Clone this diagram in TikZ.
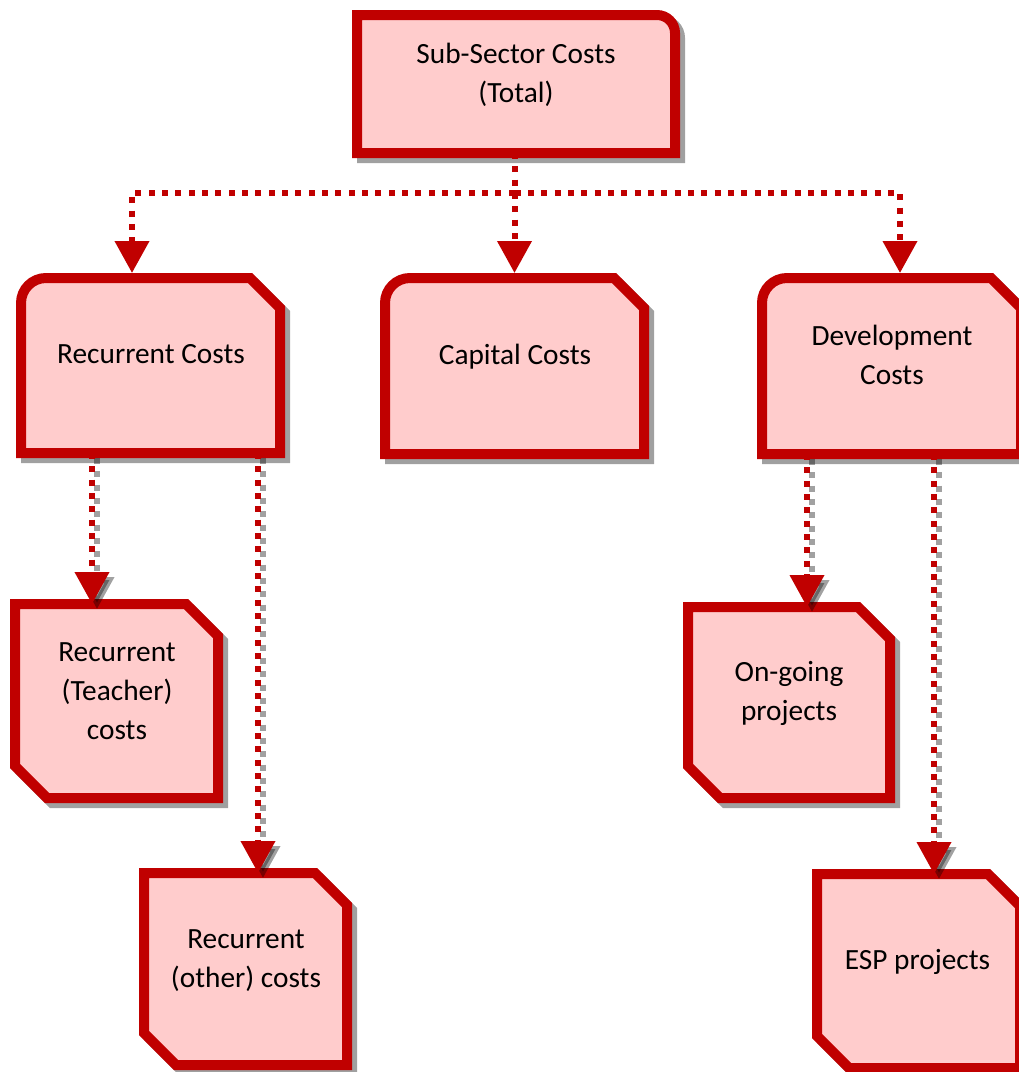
\documentclass[tikz,border=0pt]{standalone}
\usepackage{fontspec}
\setmainfont{Carlito}
\usetikzlibrary{arrows.meta,calc}
\definecolor{bred}{HTML}{C00000}
\definecolor{bfill}{HTML}{FFCCCC}
\definecolor{sgray}{HTML}{A0A0A0}
% shapes drawn on the anchors of an (invisible) box node
\newcommand\shapeTop[2]{\path[#2] (#1.south west) -- (#1.north west) -- ($(#1.north east)+(-18,0)$) arc[start angle=90,end angle=0,radius=13.5pt] -- (#1.south east) -- cycle;}
\newcommand\shapeMid[2]{\path[#2] (#1.south west) -- ($(#1.north west)+(0,25)$) arc[start angle=180,end angle=90,radius=18.75pt] -- ($(#1.north east)+(-30,0)$) -- ($(#1.north east)+(0,30)$) -- (#1.south east) -- cycle;}
\newcommand\shapeLow[2]{\path[#2] ($(#1.south west)+(0,-32)$) -- (#1.north west) -- ($(#1.north east)+(-32,0)$) -- ($(#1.north east)+(0,32)$) -- (#1.south east) -- ($(#1.south west)+(32,0)$) -- cycle;}
\begin{document}
\begin{tikzpicture}[x=0.75pt,y=-0.75pt,
  boxnode/.style={draw=none,inner sep=0pt,outer sep=0pt},
  boxline/.style={draw=bred,fill=bfill,line width=7.5pt,line join=miter},
  boxshadow/.style={draw=sgray,fill=sgray,line width=7.5pt,line join=miter,transform canvas={shift={(3.75pt,-3.75pt)}}},
  lbl/.style={align=center,inner sep=0pt,font=\fontsize{22pt}{29.25pt}\selectfont},
  conn/.style={draw=bred,line width=4.5pt,dash pattern=on 4.5pt off 5.5pt,-{Triangle[length=24pt,width=25pt]}},
  connshadow/.style={conn,draw=black,opacity=0.37,transform canvas={shift={(3.75pt,-3.75pt)}}}
]
\useasboundingbox (0,0) rectangle (1019,1072);
% box nodes
\node[boxnode,minimum width=238.5pt,minimum height=103.5pt] (top) at (516,84) {};
\node[boxnode,minimum width=194.25pt,minimum height=131.25pt] (rec) at (150.5,365.5) {};
\node[boxnode,minimum width=194.25pt,minimum height=132pt] (cap) at (514.5,366) {};
\node[boxnode,minimum width=194.25pt,minimum height=132pt] (dev) at (891.5,366) {};
\node[boxnode,minimum width=152.25pt,minimum height=145.5pt] (tea) at (116.5,701) {};
\node[boxnode,minimum width=151.5pt,minimum height=143.25pt] (ong) at (789,702.5) {};
\node[boxnode,minimum width=152.25pt,minimum height=144pt] (oth) at (245.5,969) {};
\node[boxnode,minimum width=152.25pt,minimum height=145.5pt] (esp) at (918.5,971) {};
% shadows
\shapeTop{top}{boxshadow}
\shapeMid{rec}{boxshadow}
\shapeMid{cap}{boxshadow}
\shapeMid{dev}{boxshadow}
\shapeLow{tea}{boxshadow}
\shapeLow{ong}{boxshadow}
\shapeLow{oth}{boxshadow}
\shapeLow{esp}{boxshadow}
% boxes
\shapeTop{top}{boxline}
\shapeMid{rec}{boxline}
\shapeMid{cap}{boxline}
\shapeMid{dev}{boxline}
\shapeLow{tea}{boxline}
\shapeLow{ong}{boxline}
\shapeLow{oth}{boxline}
\shapeLow{esp}{boxline}
% labels
\node[lbl] (ttop) at (516,75) {Sub-Sector Costs\\(Total)};
\node[lbl] (trec) at (151,354) {Recurrent Costs};
\node[lbl] (tcap) at (515,356.5) {Capital Costs};
\node[lbl] (tdev) at (892,355) {Development\\Costs};
\node[lbl] (ttea) at (117,691) {Recurrent\\(Teacher)\\costs};
\node[lbl] (tong) at (789,693.5) {On-going\\projects};
\node[lbl] (toth) at (246,961) {Recurrent\\(other) costs};
\node[lbl] (tesp) at (917.5,961.5) {ESP projects};
% upper connectors
\coordinate (hub) at ($(top.south -| cap.north)+(0,40)$);
\coordinate (recin) at ($(rec.north)+(-18.5,0)$);
\coordinate (devin) at ($(dev.north)+(8.5,0)$);
\draw[conn,shorten >=3.75pt] (top.south -| cap.north) -- (cap.north);
\draw[conn,shorten >=3.75pt] (hub) -| (recin);
\draw[conn,shorten >=3.75pt] (hub) -| (devin);
% lower connectors
\coordinate (r1) at ($(rec.south)+(-58.5,0)$);
\coordinate (r2) at ($(rec.south)+(107.5,0)$);
\coordinate (d1) at ($(dev.south)+(-84.5,0)$);
\coordinate (d2) at ($(dev.south)+(42.5,0)$);
\foreach \s/\t in {r1/tea,r2/oth,d1/ong,d2/esp}{
  \draw[connshadow] (\s) -- (\s |- \t.north);
  \draw[conn] (\s) -- (\s |- \t.north);
}
\end{tikzpicture}
\end{document}
